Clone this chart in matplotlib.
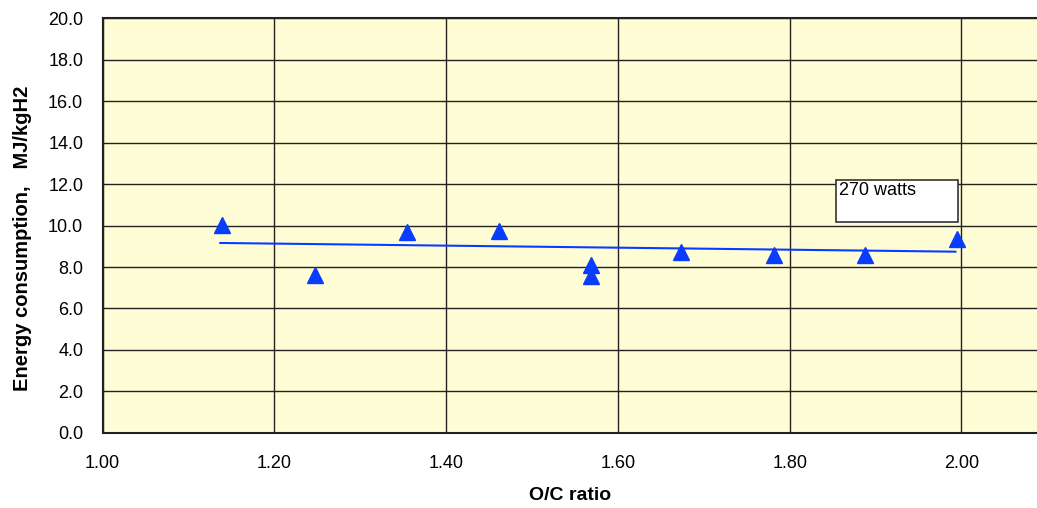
import matplotlib.pyplot as plt
from matplotlib.patches import Rectangle

plt.rcParams['font.family'] = ['Liberation Sans', 'DejaVu Sans']

# O/C ratio vs energy consumption (MJ/kgH2), 270 watts
oc_ratio = [1.139, 1.247, 1.354, 1.461, 1.569, 1.569, 1.674, 1.782, 1.888, 1.995]
energy = [10.02, 7.60, 9.68, 9.73, 8.10, 7.55, 8.72, 8.58, 8.60, 9.37]

# trend line end points
trend_x = [1.137, 1.993]
trend_y = [9.16, 8.74]

x_ticks = [1.0, 1.2, 1.4, 1.6, 1.8, 2.0]
y_ticks = [0, 2, 4, 6, 8, 10, 12, 14, 16, 18, 20]

fig = plt.figure(figsize=(10.37, 5.08), dpi=100)
ax = fig.add_axes([0.099, 0.148, 0.901, 0.816])
ax.set_facecolor('#FFFDD6')

ax.plot(oc_ratio, energy, '^', color='#0A3CFF', ms=11, zorder=3)
ax.plot(trend_x, trend_y, color='#0A3CFF', lw=1.5, zorder=2)

ax.set_xlim(1.0, 2.088)
ax.set_ylim(0, 20)
ax.set_xticks(x_ticks)
ax.set_yticks(y_ticks)
ax.set_xticklabels(['%.2f' % v for v in x_ticks])
ax.set_yticklabels(['%.1f' % v for v in y_ticks])
ax.tick_params(axis='both', length=0, labelsize=13)
ax.tick_params(axis='x', pad=16)
ax.tick_params(axis='y', pad=14)
ax.grid(True, color='#222222', lw=1.0)
ax.set_axisbelow(True)
ax.spines['right'].set_visible(False)
for s in ['left', 'bottom', 'top']:
    ax.spines[s].set_linewidth(1.5)
    ax.spines[s].set_color('#222222')

ax.set_xlabel('O/C ratio', fontsize=14, fontweight='bold', labelpad=11)
ax.set_ylabel('Energy consumption,   MJ/kgH2', fontsize=14.5, fontweight='bold')
ax.yaxis.set_label_coords(-0.076, 0.47)

# label box
ax.add_patch(Rectangle((1.854, 10.17), 0.142, 2.03, fc='white', ec='#333333',
                       lw=1.2, zorder=4))
ax.text(1.858, 12.1, '270 watts', fontsize=13, va='top', ha='left', zorder=5)

fig.savefig('out.png', dpi=100)
